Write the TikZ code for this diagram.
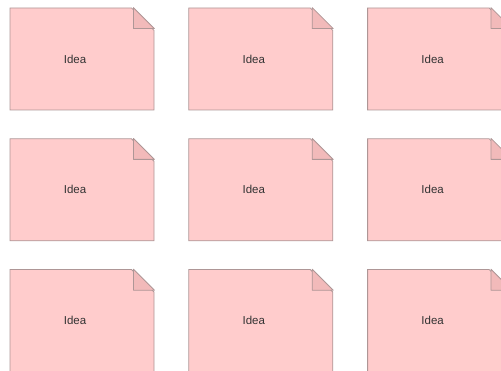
\documentclass[tikz,border=0pt]{standalone}
\usepackage{fontspec}
\setmainfont{Liberation Sans}
\usepackage{tikz}
\usetikzlibrary{positioning,shapes.misc}
\definecolor{notefill}{HTML}{FFCCCC}
\definecolor{foldfill}{HTML}{F2BABA}
\definecolor{noteline}{HTML}{AE9696}
\tikzset{
  idea/.style={chamfered rectangle,chamfered rectangle corners=north east,
    chamfered rectangle xsep=21pt,chamfered rectangle ysep=21pt,
    draw=noteline,fill=notefill,line width=0.8pt,inner sep=0pt,
    minimum width=144pt,minimum height=102pt,
    font=\fontsize{11.5}{13}\selectfont,text=black!80,
    execute at end node={\hspace{14pt}}},
  fold/.style={draw=noteline,fill=foldfill,line width=0.8pt,line join=round}
}
\begin{document}
\begin{tikzpicture}[node distance=28pt and 34pt]
  \useasboundingbox (0,0) rectangle (501pt,-371pt);
  \node[idea] (n11) at (82pt,-59pt) {Idea};
  \node[idea,right=of n11] (n12) {Idea};
  \node[idea,right=of n12] (n13) {Idea};
  \node[idea,below=of n11] (n21) {Idea};
  \node[idea,right=of n21] (n22) {Idea};
  \node[idea,right=of n22] (n23) {Idea};
  \node[idea,below=of n21] (n31) {Idea};
  \node[idea,right=of n31] (n32) {Idea};
  \node[idea,right=of n32] (n33) {Idea};
  \foreach \n in {n11,n12,n13,n21,n22,n23,n31,n32,n33}
    \draw[fold] ([xshift=-21pt]\n.east |- \n.north)
      -- ([xshift=-21pt,yshift=-21pt]\n.east |- \n.north)
      -- ([yshift=-21pt]\n.east |- \n.north) -- cycle;
\end{tikzpicture}
\end{document}
